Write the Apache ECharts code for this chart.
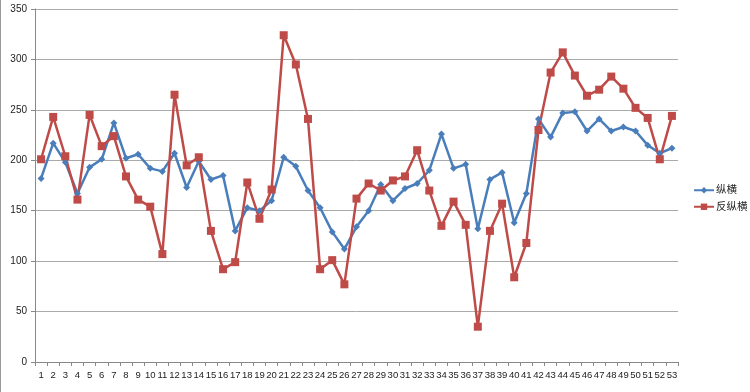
<!DOCTYPE html>
<html><head><meta charset="utf-8">
<script src="https://cdn.jsdelivr.net/npm/echarts@6/dist/echarts.min.js"></script>
<style>html,body{margin:0;padding:0;background:#fff}#c{width:750px;height:392px}</style>
</head><body><div id="c"></div>
<script>
const categories = Array.from({length:53},(_,i)=>String(i+1));
const seriesNames = ['纵横','反纵横'];
const blueValues = [182,217,198,167,193,201,237,202,206,192,189,207,173,199,181,185,130,153,150,160,203,194,170,153,129,112,134,150,176,160,172,177,190,226,192,196,132,181,188,138,167,241,223,247,248,229,241,229,233,229,215,207,212];
const redValues = [201,243,204,161,245,214,224,184,161,154,107,265,195,203,130,92,99,178,142,171,324,295,241,92,101,77,162,177,170,180,184,210,170,135,159,136,35,130,157,84,118,230,287,307,284,264,270,283,271,252,242,201,244];
const yTicks = {min:0,max:350,interval:50};

const chart = echarts.init(document.getElementById('c'));
const font = 'Liberation Sans, "Noto Sans CJK SC", sans-serif';
chart.setOption({
  animation:false,
  backgroundColor:'#fff',
  grid:{left:35,right:72,top:9,bottom:30,containLabel:false},
  legend:{orient:'vertical',left:688,top:180,itemGap:6,itemWidth:20,itemHeight:8,
    textStyle:{fontSize:10.5,color:'#222',fontFamily:font,padding:[0,0,0,-3]},
    data:seriesNames},
  xAxis:{type:'category',data:categories,boundaryGap:true,
    axisLine:{lineStyle:{color:'#888'}},
    axisTick:{show:true,length:4,lineStyle:{color:'#888'}},
    axisLabel:{fontSize:9.5,color:'#222',margin:9,interval:0,fontFamily:font}},
  yAxis:{type:'value',min:yTicks.min,max:yTicks.max,interval:yTicks.interval,
    axisLine:{show:true,lineStyle:{color:'#888'}},
    axisTick:{show:true,length:4,lineStyle:{color:'#888'}},
    splitLine:{lineStyle:{color:'#aaa',width:1}},
    axisLabel:{fontSize:10,color:'#222',margin:8,fontFamily:font}},
  graphic:[{type:'line',shape:{x1:0.5,y1:0,x2:0.5,y2:392},style:{stroke:'#999',lineWidth:1}}],
  series:[
    {name:seriesNames[0],type:'line',data:blueValues,symbol:'diamond',symbolSize:7,
      lineStyle:{color:'#4A7EBB',width:2.5},itemStyle:{color:'#4A7EBB'}},
    {name:seriesNames[1],type:'line',data:redValues,symbol:'rect',symbolSize:8,
      lineStyle:{color:'#BE4B48',width:2.5},itemStyle:{color:'#BE4B48'}}
  ]
});
</script></body></html>
